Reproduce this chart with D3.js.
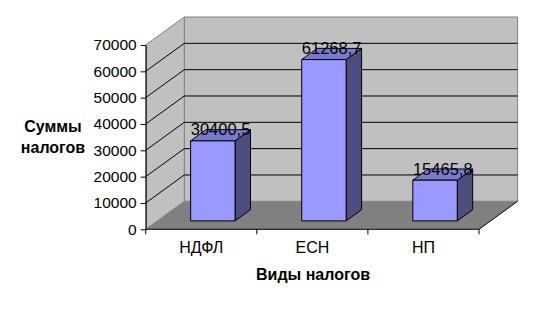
<!DOCTYPE html>
<html><head><meta charset="utf-8">
<script src="https://cdn.jsdelivr.net/npm/d3@7"></script>
<style>
html,body{margin:0;padding:0;background:#fff;}
svg{display:block;font-family:"Liberation Sans",Arial,sans-serif;}
</style></head>
<body><svg id="c" width="534" height="309"></svg>
<script>
const categories = ["НДФЛ", "ЕСН", "НП"];
const values = [30400.5, 61268.7, 15465.8];
const valueLabels = ["30400,5", "61268,7", "15465,8"];
const yTicks = [0, 10000, 20000, 30000, 40000, 50000, 60000, 70000];
const yTitle = ["Суммы", "налогов"];
const xTitle = "Виды налогов";

const svg = d3.select("#c");
const DX = 38.6, DY = -28;           // depth projection vector
const y = d3.scaleLinear().domain([0, 70000]).range([229.3, 45]);
const x = d3.scaleBand().domain(categories).range([145.7, 479]);
const P = (px, py, d) => [px + d * DX, py + d * DY];
const poly = pts => pts.map(p => p.join(",")).join(" ");

const x0 = x.range()[0], x1 = x.range()[1];
const yMax = y(70000), y0 = y(0);

// back wall
const bw = [P(x0, yMax, 1), P(x1, yMax, 1), P(x1, y0, 1), P(x0, y0, 1)];
svg.append("polygon").attr("points", poly(bw)).attr("fill", "#c0c0c0").attr("stroke", "#808080").attr("stroke-width", 1);
// left wall
const lw = [[x0, yMax], P(x0, yMax, 1), P(x0, y0, 1), [x0, y0]];
svg.append("polygon").attr("points", poly(lw)).attr("fill", "#c0c0c0").attr("stroke", "#808080").attr("stroke-width", 1);
// floor
const fl = [[x0, y0], [x1, y0], P(x1, y0, 1), P(x0, y0, 1)];
svg.append("polygon").attr("points", poly(fl)).attr("fill", "#808080").attr("stroke", "none");

// gridlines
const grid = yTicks.filter(v => v > 0 && v < 70000);
grid.forEach(v => {
  const a = P(x0, y(v), 1), b = P(x1, y(v), 1);
  svg.append("line").attr("x1", a[0]).attr("y1", a[1]).attr("x2", b[0]).attr("y2", b[1]).attr("stroke", "#000");
  svg.append("line").attr("x1", x0).attr("y1", y(v)).attr("x2", a[0]).attr("y2", a[1]).attr("stroke", "#000");
});

// floor edges
svg.append("line").attr("x1", x0).attr("y1", y0).attr("x2", x1).attr("y2", y0).attr("stroke", "#000");
const fr = P(x1, y0, 1);
svg.append("line").attr("x1", x1).attr("y1", y0).attr("x2", fr[0]).attr("y2", fr[1]).attr("stroke", "#000");

// y axis
const ya = svg.append("g").attr("transform", `translate(${x0},0)`)
  .call(d3.axisLeft(y).tickValues(yTicks).tickFormat(d3.format("d")).tickSize(5).tickSizeOuter(0).tickPadding(4));
ya.select(".domain").attr("stroke", "#000");
ya.selectAll("line").attr("stroke", "#000");
ya.selectAll("text").attr("font-size", 15.5).attr("fill", "#000").attr("font-family", "Liberation Sans, Arial, sans-serif");

// x axis labels
const xa = svg.append("g").attr("transform", `translate(0,${y0})`)
  .call(d3.axisBottom(x).tickSize(0).tickPadding(12));
xa.select(".domain").remove();
xa.selectAll("text").attr("font-size", 16).attr("fill", "#000").attr("font-family", "Liberation Sans, Arial, sans-serif");
// category boundary ticks
const bounds = categories.map(c => x(c)).concat([x1]);
svg.selectAll(".bt").data(bounds).join("line").attr("class", "bt")
  .attr("x1", d => d).attr("x2", d => d).attr("y1", y0).attr("y2", y0 + 5).attr("stroke", "#000");

// bars
const fd = 0.3, bd = 0.7;
const bars = svg.append("g");
categories.forEach((c, i) => {
  const bx0 = x(c) + x.bandwidth() * 0.3, bx1 = x(c) + x.bandwidth() * 0.7;
  const yt = y(values[i]), yb = y(0);
  const f = [P(bx0, yt, fd), P(bx1, yt, fd), P(bx1, yb, fd), P(bx0, yb, fd)];
  const top = [P(bx0, yt, fd), P(bx1, yt, fd), P(bx1, yt, bd), P(bx0, yt, bd)];
  const side = [P(bx1, yt, fd), P(bx1, yt, bd), P(bx1, yb, bd), P(bx1, yb, fd)];
  bars.append("polygon").attr("points", poly(side)).attr("fill", "#4d4d80").attr("stroke", "#000").attr("stroke-linejoin", "round");
  bars.append("polygon").attr("points", poly(top)).attr("fill", "#7a7acc").attr("stroke", "#000").attr("stroke-linejoin", "round");
  bars.append("polygon").attr("points", poly(f)).attr("fill", "#9999ff").attr("stroke", "#000").attr("stroke-linejoin", "round");
  const cx = (P(bx0, yt, fd)[0] + P(bx1, yt, bd)[0]) / 2;
  bars.append("text").attr("x", cx).attr("y", P(bx0, yt, fd)[1] - 5.5)
    .attr("text-anchor", "middle").attr("font-size", 16.5).attr("fill", "#000")
    .text(valueLabels[i]);
});

// titles
svg.append("text").attr("x", 53).attr("y", 132).attr("text-anchor", "middle")
  .attr("font-size", 16).attr("font-weight", "bold").text(yTitle[0]);
svg.append("text").attr("x", 53).attr("y", 153).attr("text-anchor", "middle")
  .attr("font-size", 16).attr("font-weight", "bold").text(yTitle[1]);
svg.append("text").attr("x", 313).attr("y", 279.5).attr("text-anchor", "middle")
  .attr("font-size", 16).attr("font-weight", "bold").text(xTitle);
</script></body></html>
